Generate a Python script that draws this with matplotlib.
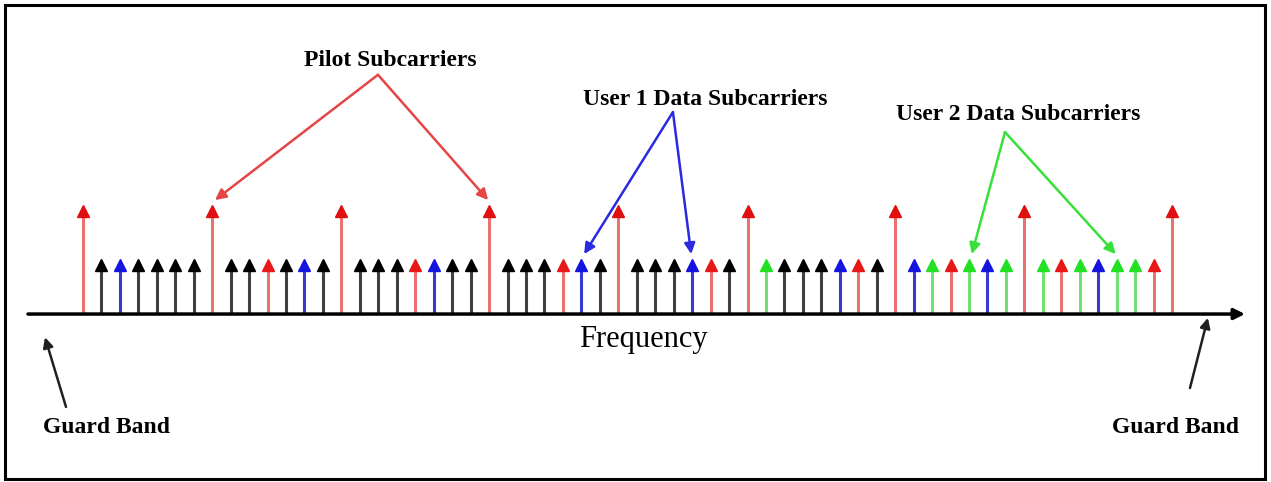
import matplotlib.pyplot as plt
from matplotlib.patches import Rectangle

# subcarrier types along the frequency axis, index 0..59
# P = pilot (tall), R = short red, K = unused/other (black), B = user 1, G = user 2
SUBCARRIERS = list(
    "PKBKKKK"
    "PKKRKBK"
    "PKKKRBKK"
    "PKKKRBK"
    "PKKKBRK"
    "PGKKKBRK"
    "PBGRGBG"
    "PGRGBGGR"
    "P"
)
HEIGHTS = {'P': 2.0, 'R': 1.0, 'K': 1.0, 'B': 1.0, 'G': 1.0}
HEAD_COLORS = {'P': '#e01010', 'R': '#e81818', 'K': '#000000', 'B': '#1515e0', 'G': '#22e022'}
STEM_COLORS = {'P': '#ec7070', 'R': '#ec7070', 'K': '#404040', 'B': '#3a3ad0', 'G': '#70e070'}

PILOT_TARGETS = [7, 22]
USER1_TARGETS = [27, 33]
USER2_TARGETS = [48, 56]
GUARD_LEFT = -2.0
GUARD_RIGHT = 61.0

fig = plt.figure(figsize=(12.71, 4.82), dpi=100)
ax = fig.add_axes([0, 0, 1, 1])
ax.set_xlim(-4.496, 64.36)
ax.set_ylim(-3.11, 5.815)
ax.axis('off')

# outer frame
fig.patches.append(Rectangle((5 / 1271, 3 / 482), 1260 / 1271, 474 / 482,
                             transform=fig.transFigure, fill=False,
                             edgecolor='black', lw=2.2))

head_h = 0.19
for i, kind in enumerate(SUBCARRIERS):
    h = HEIGHTS[kind]
    ax.vlines(i, 0, h - head_h * 0.8, color=STEM_COLORS[kind], lw=2.2, zorder=2)
    ax.plot(i, h - head_h / 2, marker='^', ms=8, color=HEAD_COLORS[kind],
            mec=HEAD_COLORS[kind], zorder=3)

# frequency axis
ax.annotate('', xy=(62.95, 0), xytext=(-2.98, 0),
            arrowprops=dict(arrowstyle='-|>', color='black', lw=2.5,
                            mutation_scale=16, shrinkA=0, shrinkB=0), zorder=4)
ax.text(30.34, -0.48, 'Frequency', ha='center', va='center',
        family='Liberation Serif', fontsize=22)

label_font = dict(family='Liberation Serif', fontsize=17, fontweight='bold',
                  ha='center', va='center')

# guard bands
ax.annotate('', xy=(GUARD_LEFT - 0.06, -0.43), xytext=(GUARD_LEFT + 1.08, -1.72),
            arrowprops=dict(arrowstyle='-|>', color='#202020', lw=1.8,
                            mutation_scale=15, shrinkA=0, shrinkB=0))
ax.annotate('', xy=(GUARD_RIGHT - 0.06, -0.07), xytext=(GUARD_RIGHT - 1.03, -1.37),
            arrowprops=dict(arrowstyle='-|>', color='#202020', lw=1.8,
                            mutation_scale=15, shrinkA=0, shrinkB=0))
ax.text(1.3, -2.11, 'Guard Band', **label_font)
ax.text(59.2, -2.11, 'Guard Band', **label_font)


def callout(label, label_xy, apex, targets, color):
    ax.text(label_xy[0], label_xy[1], label, **label_font)
    for t in targets:
        tip_y = HEIGHTS[SUBCARRIERS[t]] + 0.11
        ax.annotate('', xy=(t + 0.15 if t < apex[0] else t - 0.05, tip_y), xytext=apex,
                    arrowprops=dict(arrowstyle='-|>', color=color, lw=1.8,
                                    mutation_scale=16, shrinkA=0, shrinkB=0))


callout('Pilot Subcarriers', (16.63, 4.70), (15.98, 4.43), PILOT_TARGETS, '#e64545')
callout('User 1 Data Subcarriers', (33.7, 3.98), (31.96, 3.74), USER1_TARGETS, '#2a2ae0')
callout('User 2 Data Subcarriers', (50.65, 3.69), (49.95, 3.37), USER2_TARGETS, '#3ae03a')

fig.savefig('out.png', dpi=100)
